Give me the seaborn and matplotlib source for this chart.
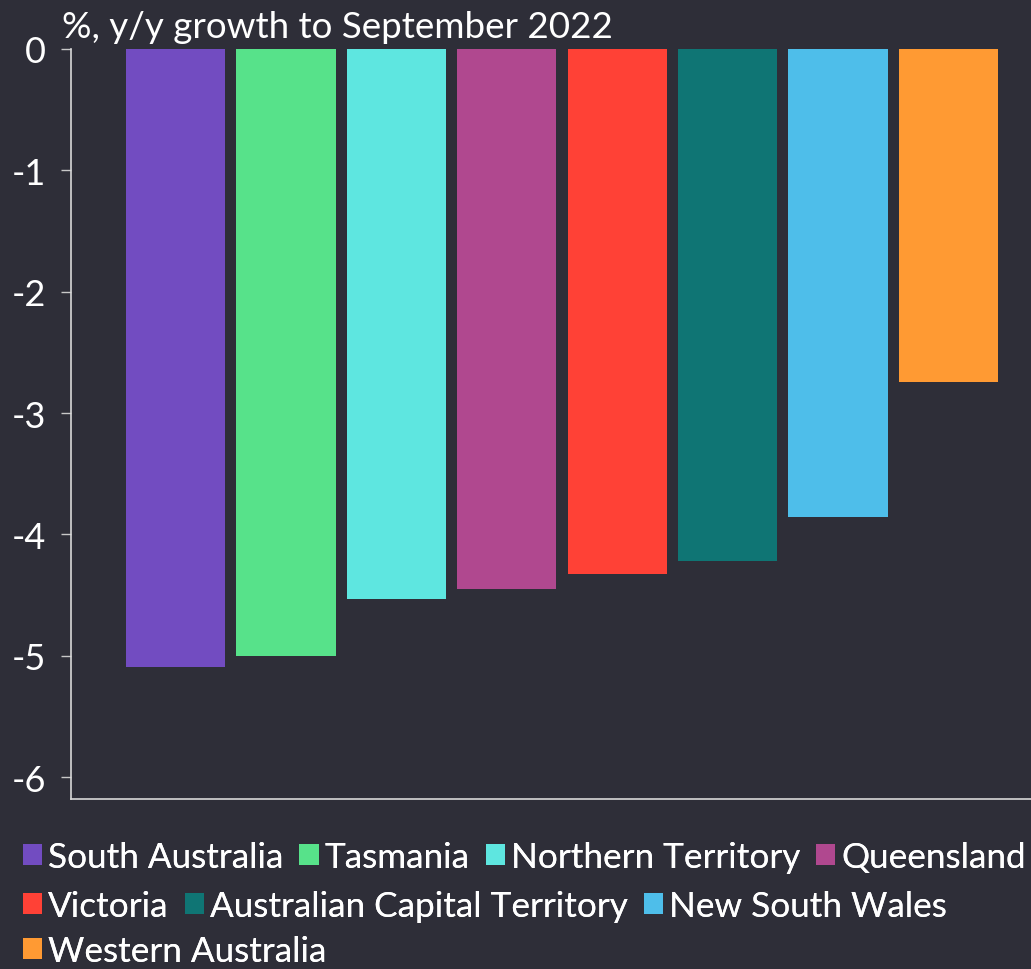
import matplotlib
matplotlib.use("Agg")
import matplotlib.pyplot as plt
import matplotlib.patches as mpatches
import pandas as pd
import seaborn as sns

states = ["South Australia", "Tasmania", "Northern Territory", "Queensland",
          "Victoria", "Australian Capital Territory", "New South Wales",
          "Western Australia"]
growth = [-5.09, -5.0, -4.53, -4.45, -4.33, -4.22, -3.86, -2.74]
colors = ["#724CC1", "#57E28A", "#5EE6E0", "#B0488F",
          "#FF4136", "#0F7574", "#4EBEEA", "#FF9A33"]
yticks = [0, -1, -2, -3, -4, -5, -6]
title = "%, y/y growth to September 2022"

bg = "#2E2E38"
fg = "#FFFFFF"

sns.set_style("dark")
plt.rcParams["font.family"] = ["Lato", "DejaVu Sans"]

df = pd.DataFrame({"state": states, "growth": growth})

fig = plt.figure(figsize=(10.31, 9.70), dpi=100, facecolor=bg)
ax = fig.add_axes([71 / 1031, 1 - 800 / 970, 1 - 71 / 1031, 750 / 970])
ax.set_facecolor(bg)

sns.barplot(data=df, x="state", y="growth", hue="state", palette=colors,
            width=0.9, saturation=1, legend=False, linewidth=0,
            edgecolor="none", ax=ax)

ax.set_xlim(-0.946, 7.747)
ax.set_ylim(-6.18, 0)
ax.set_yticks(yticks)
ax.set_yticklabels([str(t) for t in yticks])
ax.set_xticks([])
ax.set_xlabel("")
ax.set_ylabel("")
ax.grid(False)

for side in ["top", "right"]:
    ax.spines[side].set_visible(False)
for side in ["left", "bottom"]:
    ax.spines[side].set_visible(True)
    ax.spines[side].set_color("#D8D8D8")
    ax.spines[side].set_linewidth(1.2)
ax.tick_params(axis="y", colors="#C8C8C8", length=7, width=1, pad=11,
               labelsize=26, labelcolor=fg, left=True)

fig.text(62 / 1031, 1 - 38 / 970, title, color=fg, fontsize=26.5,
         va="baseline", ha="left")

# legend laid out in three flowing rows like the original
rows = [[0, 1, 2, 3], [4, 5, 6], [7]]
row_y = [858, 907, 952]
for idx, y in zip(rows, row_y):
    handles = [mpatches.Patch(facecolor=colors[i], edgecolor="none",
                              linewidth=0, label=states[i]) for i in idx]
    leg = fig.legend(handles=handles, loc="center left",
                     bbox_to_anchor=(23 / 1031, 1 - y / 970), ncol=len(idx),
                     frameon=False, fontsize=25.3, labelcolor=fg,
                     handlelength=0.55, handleheight=0.55, handletextpad=0.17,
                     columnspacing=0.45, borderpad=0, borderaxespad=0)
    fig.add_artist(leg)

fig.savefig("out.png", dpi=100, facecolor=bg)
